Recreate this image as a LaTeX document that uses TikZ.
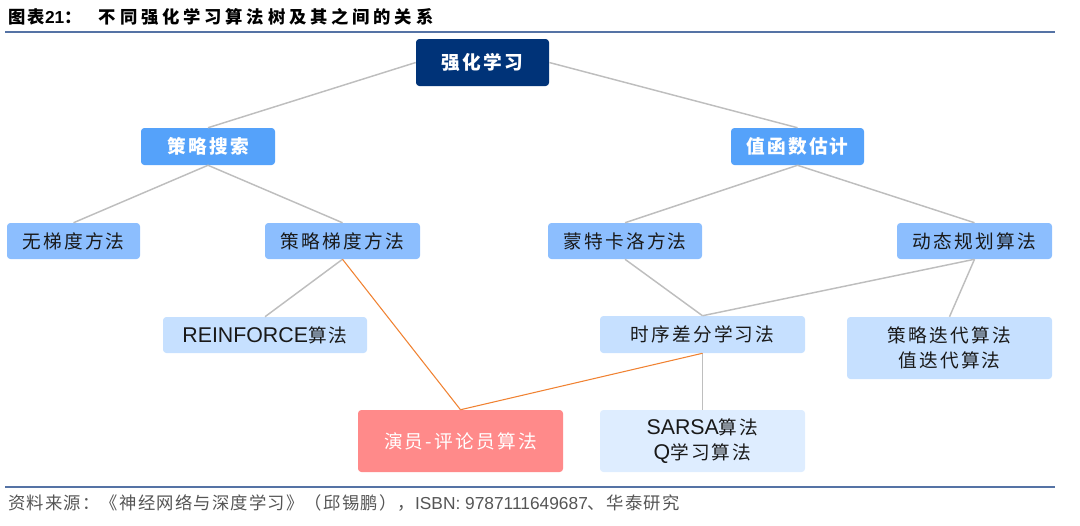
\documentclass[tikz,border=0pt]{standalone}
\usepackage{fontspec}
\setmainfont{Noto Sans CJK SC}[LetterSpace=12]
\newfontfamily\cjk{Noto Sans CJK SC}[LetterSpace=12]
\newfontfamily\cjktitle{Noto Sans CJK SC}[LetterSpace=22]
\newfontfamily\cjkfoot{Noto Sans CJK SC}[LetterSpace=7]
\newfontfamily\lat{Liberation Sans}
\newcommand{\latbig}[1]{{\lat\fontsize{16}{18}\selectfont #1}}
\definecolor{navy}{RGB}{0,51,120}
\definecolor{midblue}{RGB}{85,162,250}
\definecolor{lblue}{RGB}{140,190,254}
\definecolor{pblue}{RGB}{198,224,255}
\definecolor{vpblue}{RGB}{222,237,255}
\definecolor{salmon}{RGB}{255,138,138}
\definecolor{rulecol}{RGB}{85,115,165}
\definecolor{linkgray}{RGB}{190,190,190}
\definecolor{linkorange}{RGB}{240,130,50}
\definecolor{txt}{RGB}{25,25,25}
\definecolor{foot}{RGB}{85,85,85}
\begin{document}
\begin{tikzpicture}[x=0.75pt,y=-0.75pt,
  wh/.style 2 args={minimum width=#1*0.75pt, minimum height=#2*0.75pt},
  box/.style={rectangle, rounded corners=2.5pt, inner sep=0pt, align=center, font=\fontsize{14}{19}\selectfont},
  topbox/.style={box, fill=navy, text=white, font=\fontsize{14}{19}\selectfont\bfseries},
  hdbox/.style={box, fill=midblue, text=white, font=\fontsize{14}{19}\selectfont\bfseries},
  l2box/.style={box, fill=lblue, text=txt},
  l3box/.style={box, fill=pblue, text=txt},
  l4box/.style={box, fill=vpblue, text=txt},
  acbox/.style={box, fill=salmon, text=white},
  link/.style={draw=linkgray, line width=1.1pt},
  olink/.style={draw=linkorange, line width=0.8pt},
  rulestyle/.style={draw=rulecol, line width=1.5pt}
]
\useasboundingbox (0,0) rectangle (1080,525);

% title and rules
\node[anchor=west, inner sep=0pt, font=\fontsize{13}{15}\selectfont\bfseries, text=black] (title) at (8,17)
  {\cjk 图表{\lat\bfseries 21}：\hspace{13pt}\cjktitle 不同强化学习算法树及其之间的关系};
\coordinate (r1a) at (5,32);
\coordinate (r1b) at (1055,32);
\draw[rulestyle] (r1a) -- (r1b);
\coordinate (r2a) at (5,487);
\coordinate (r2b) at (1055,487);
\draw[rulestyle] (r2a) -- (r2b);
\node[anchor=west, inner sep=0pt, font=\fontsize{13}{15}\selectfont, text=foot] (footer) at (8,503)
  {\cjkfoot 资料来源：《神经网络与深度学习》（邱锡鹏），{\lat ISBN: 9787111649687}、华泰研究};

% nodes
\node[topbox, wh={133}{47}] (root) at (482.5,62.5) {强化学习};
\node[hdbox, wh={134}{37}] (ps) at (208,146.5) {策略搜索};
\node[hdbox, wh={133}{37}] (vf) at (797.5,146.5) {值函数估计};
\node[l2box, wh={133}{36}] (wt) at (73.5,241) {无梯度方法};
\node[l2box, wh={155}{36}] (pg) at (342.5,241) {策略梯度方法};
\node[l2box, wh={154}{36}] (mc) at (625,241) {蒙特卡洛方法};
\node[l2box, wh={155}{36}] (dp) at (974.5,241) {动态规划算法};
\node[l3box, wh={204}{36}] (rf) at (265,335) {\latbig{REINFORCE}算法};
\node[l3box, wh={205}{37}] (td) at (702.5,334.5) {时序差分学习法};
\node[l3box, wh={205}{62}] (pi) at (949.5,348) {策略迭代算法\\值迭代算法};
\node[acbox, wh={205}{62}] (ac) at (460.5,441) {演员-评论员算法};
\node[l4box, wh={205}{62}] (sq) at (702.5,441) {\latbig{SARSA}算法\\\latbig{Q}学习算法};

% connectors
\draw[link] (root.west) -- (ps.north);
\draw[link] (root.east) -- (vf.north);
\draw[link] (ps.south) -- (wt.north);
\draw[link] (ps.south) -- (pg.north);
\draw[link] (vf.south) -- (mc.north);
\draw[link] (vf.south) -- (dp.north);
\draw[link] (pg.south) -- (rf.north);
\draw[link] (mc.south) -- (td.north);
\draw[link] (dp.south) -- (td.north);
\draw[link] (dp.south) -- (pi.north);
\draw[link] (td.south) -- (sq.north);
\draw[olink] (pg.south) -- (ac.north);
\draw[olink] (td.south) -- (ac.north);
\end{tikzpicture}
\end{document}
